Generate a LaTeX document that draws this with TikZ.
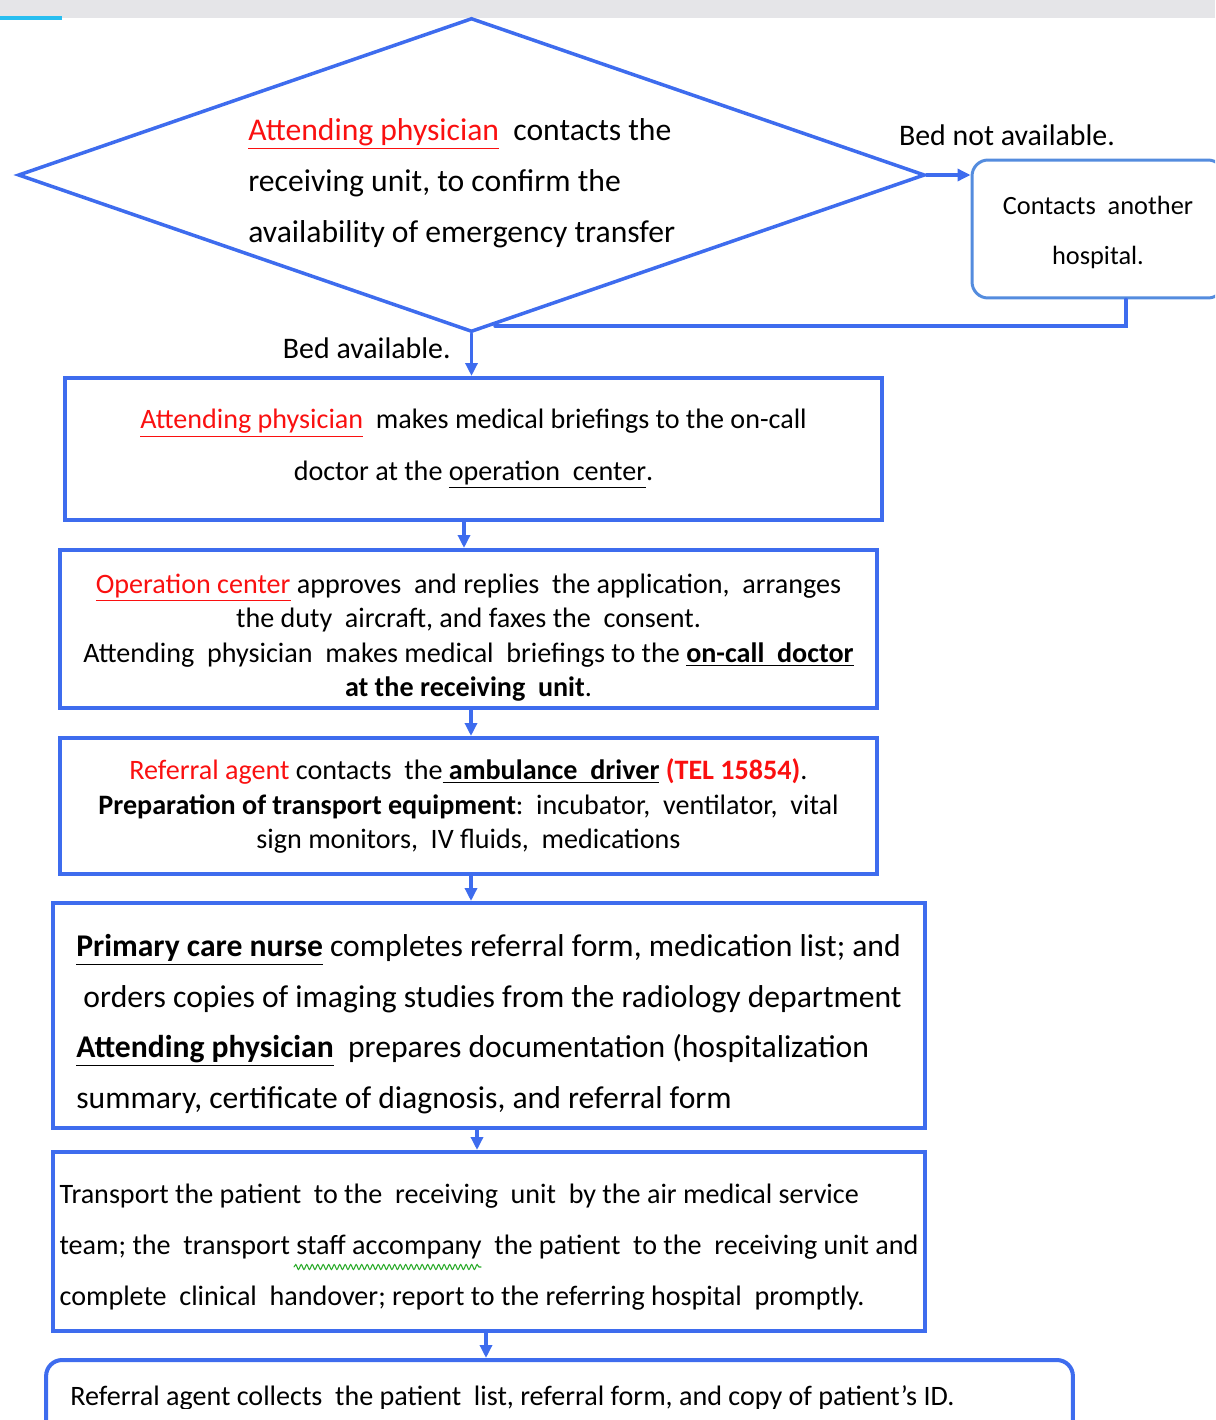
\documentclass[tikz,border=0pt]{standalone}
\usepackage{fontspec}
\setmainfont{Carlito}
\usepackage{tikz}
\usetikzlibrary{arrows.meta,shapes.geometric,decorations.pathmorphing}
\usepackage{xcolor}
\definecolor{flowblue}{RGB}{62,108,238}
\definecolor{hospblue}{RGB}{84,140,222}
\definecolor{alertred}{RGB}{250,16,16}
\definecolor{wavegreen}{RGB}{40,170,40}
\definecolor{topgray}{RGB}{229,229,232}
\definecolor{tabcyan}{RGB}{40,190,240}

\begin{document}
\begin{tikzpicture}[x=0.02cm,y=-0.02cm,>={Triangle[length=2.6mm,width=2.4mm]},line cap=round,
  flowbox/.style={draw=flowblue,line width=2.3pt,inner sep=2pt,align=center,font=\fontsize{16}{19.5}\selectfont},
  roundbox/.style={flowbox,draw=hospblue,line width=1.7pt,rounded corners=0.32cm},
  arr/.style={->,flowblue,line width=2pt},
  link/.style={flowblue,line width=2pt},
  lbl/.style={inner sep=0pt,font=\fontsize{17}{20}\selectfont}]
\useasboundingbox (0,0) rectangle (1215,1420);
\clip (0,0) rectangle (1215,1420);
\fill[topgray] (0,0) rectangle (1215,18);
\fill[tabcyan] (0,16) rectangle (62,20);

% decision
\node[diamond,draw=flowblue,line width=2pt,inner sep=0pt,minimum width=18.14cm,minimum height=6.28cm] (ask) at (471.5,175) {};
\node[anchor=west,align=left,inner sep=0pt,font=\fontsize{18}{29}\selectfont] (asktext) at (248,183)
  {\textcolor{alertred}{\underline{Attending physician}}\ \ contacts the\\
   receiving unit, to confirm the\\
   availability of emergency transfer};
\node[roundbox,minimum width=5.04cm,minimum height=2.76cm,font=\fontsize{15}{28.3}\selectfont] (hospital) at (1098,229)
  {\rule{0pt}{14pt}Contacts\ \ another\\ hospital.};
\node[lbl] (nobed) at (1007,135) {Bed not available.};
\node[lbl,anchor=east] (bed) at (451,348) {Bed available.};
\coordinate (rejoin) at (495,326);
\draw[arr] (ask.east) -- (ask.east -| hospital.west);
\draw[link] (hospital.south -| 1126,0) |- (rejoin);

% steps
\node[flowbox,minimum width=16.34cm,minimum height=2.84cm,font=\fontsize{16}{29.5}\selectfont] (brief) at (473.5,449)
  {\textcolor{alertred}{\underline{Attending physician}}\ \ makes medical briefings to the on-call\\
   doctor at the \underline{operation\ \ center}.};
\node[flowbox,minimum width=16.34cm,minimum height=3.16cm] (approve) at (468.5,629)
  {\rule{0pt}{21pt}\textcolor{alertred}{\underline{Operation center}} approves\ \ and replies\ \ the application,\ \ arranges\\
   the duty\ \ aircraft, and faxes the\ \ consent.\\
   Attending\ \ physician\ \ makes medical\ \ briefings to the \textbf{\underline{on-call\ \ doctor}}\\
   \textbf{at the receiving\ \ unit}.};
\node[flowbox,minimum width=16.34cm,minimum height=2.72cm] (agent) at (468.5,806)
  {\textcolor{alertred}{Referral agent} contacts\ \ the\textbf{\underline{\ ambulance\ \ driver}} \textcolor{alertred}{\textbf{(TEL 15854)}}.\\
   \textbf{Preparation of transport equipment}:\ \ incubator,\ \ ventilator,\ \ vital\\
   sign monitors,\ \ IV fluids,\ \ medications};
\node[flowbox,align=left,minimum width=17.44cm,minimum height=4.5cm,font=\fontsize{18}{28.8}\selectfont] (nurse) at (489,1015.5)
  {\rule{0pt}{22.5pt}\textbf{\underline{Primary care nurse}} completes referral form, medication list; and\\
   \ orders copies of imaging studies from the radiology department\\
   \textbf{\underline{Attending physician}}\ \ prepares documentation (hospitalization\\
   summary, certificate of diagnosis, and referral form};
\node[flowbox,align=left,minimum width=17.44cm,minimum height=3.58cm,font=\fontsize{16}{29.2}\selectfont] (transport) at (489,1241.5)
  {\rule{0pt}{17.7pt}Transport the patient\ \ to the\ \ receiving\ \ unit\ \ by the air medical service\\
   team; the\ \ transport staff accompany\ \ the patient\ \ to the\ \ receiving unit and\\
   complete\ \ clinical\ \ handover; report to the referring hospital\ \ promptly.};
\draw[wavegreen,line width=0.6pt,decorate,decoration={snake,amplitude=0.5mm,segment length=1.1mm}] (294,1267) -- (481,1267);
\node[roundbox,draw=flowblue,line width=2.3pt,minimum width=20.54cm,minimum height=1.8cm] (collect) at (559.5,1405) {};
\begin{scope}
\clip (46,1360) rectangle (1073,1408);
\node[anchor=west,inner sep=0pt,font=\fontsize{16}{19.5}\selectfont] (collecttext) at (70,1398)
  {Referral agent collects\ \ the patient\ \ list, referral form, and copy of patient's ID.};
\end{scope}

\draw[arr] (ask.south) -- (ask.south |- brief.north);
\draw[arr] (brief.south -| 464,0) -- (approve.north -| 464,0);
\draw[arr] (approve.south -| 471,0) -- (agent.north -| 471,0);
\draw[arr] (agent.south -| 471,0) -- (nurse.north -| 471,0);
\draw[arr] (nurse.south -| 477,0) -- (transport.north -| 477,0);
\draw[arr] (transport.south -| 486,0) -- (collect.north -| 486,0);
\end{tikzpicture}
\end{document}
